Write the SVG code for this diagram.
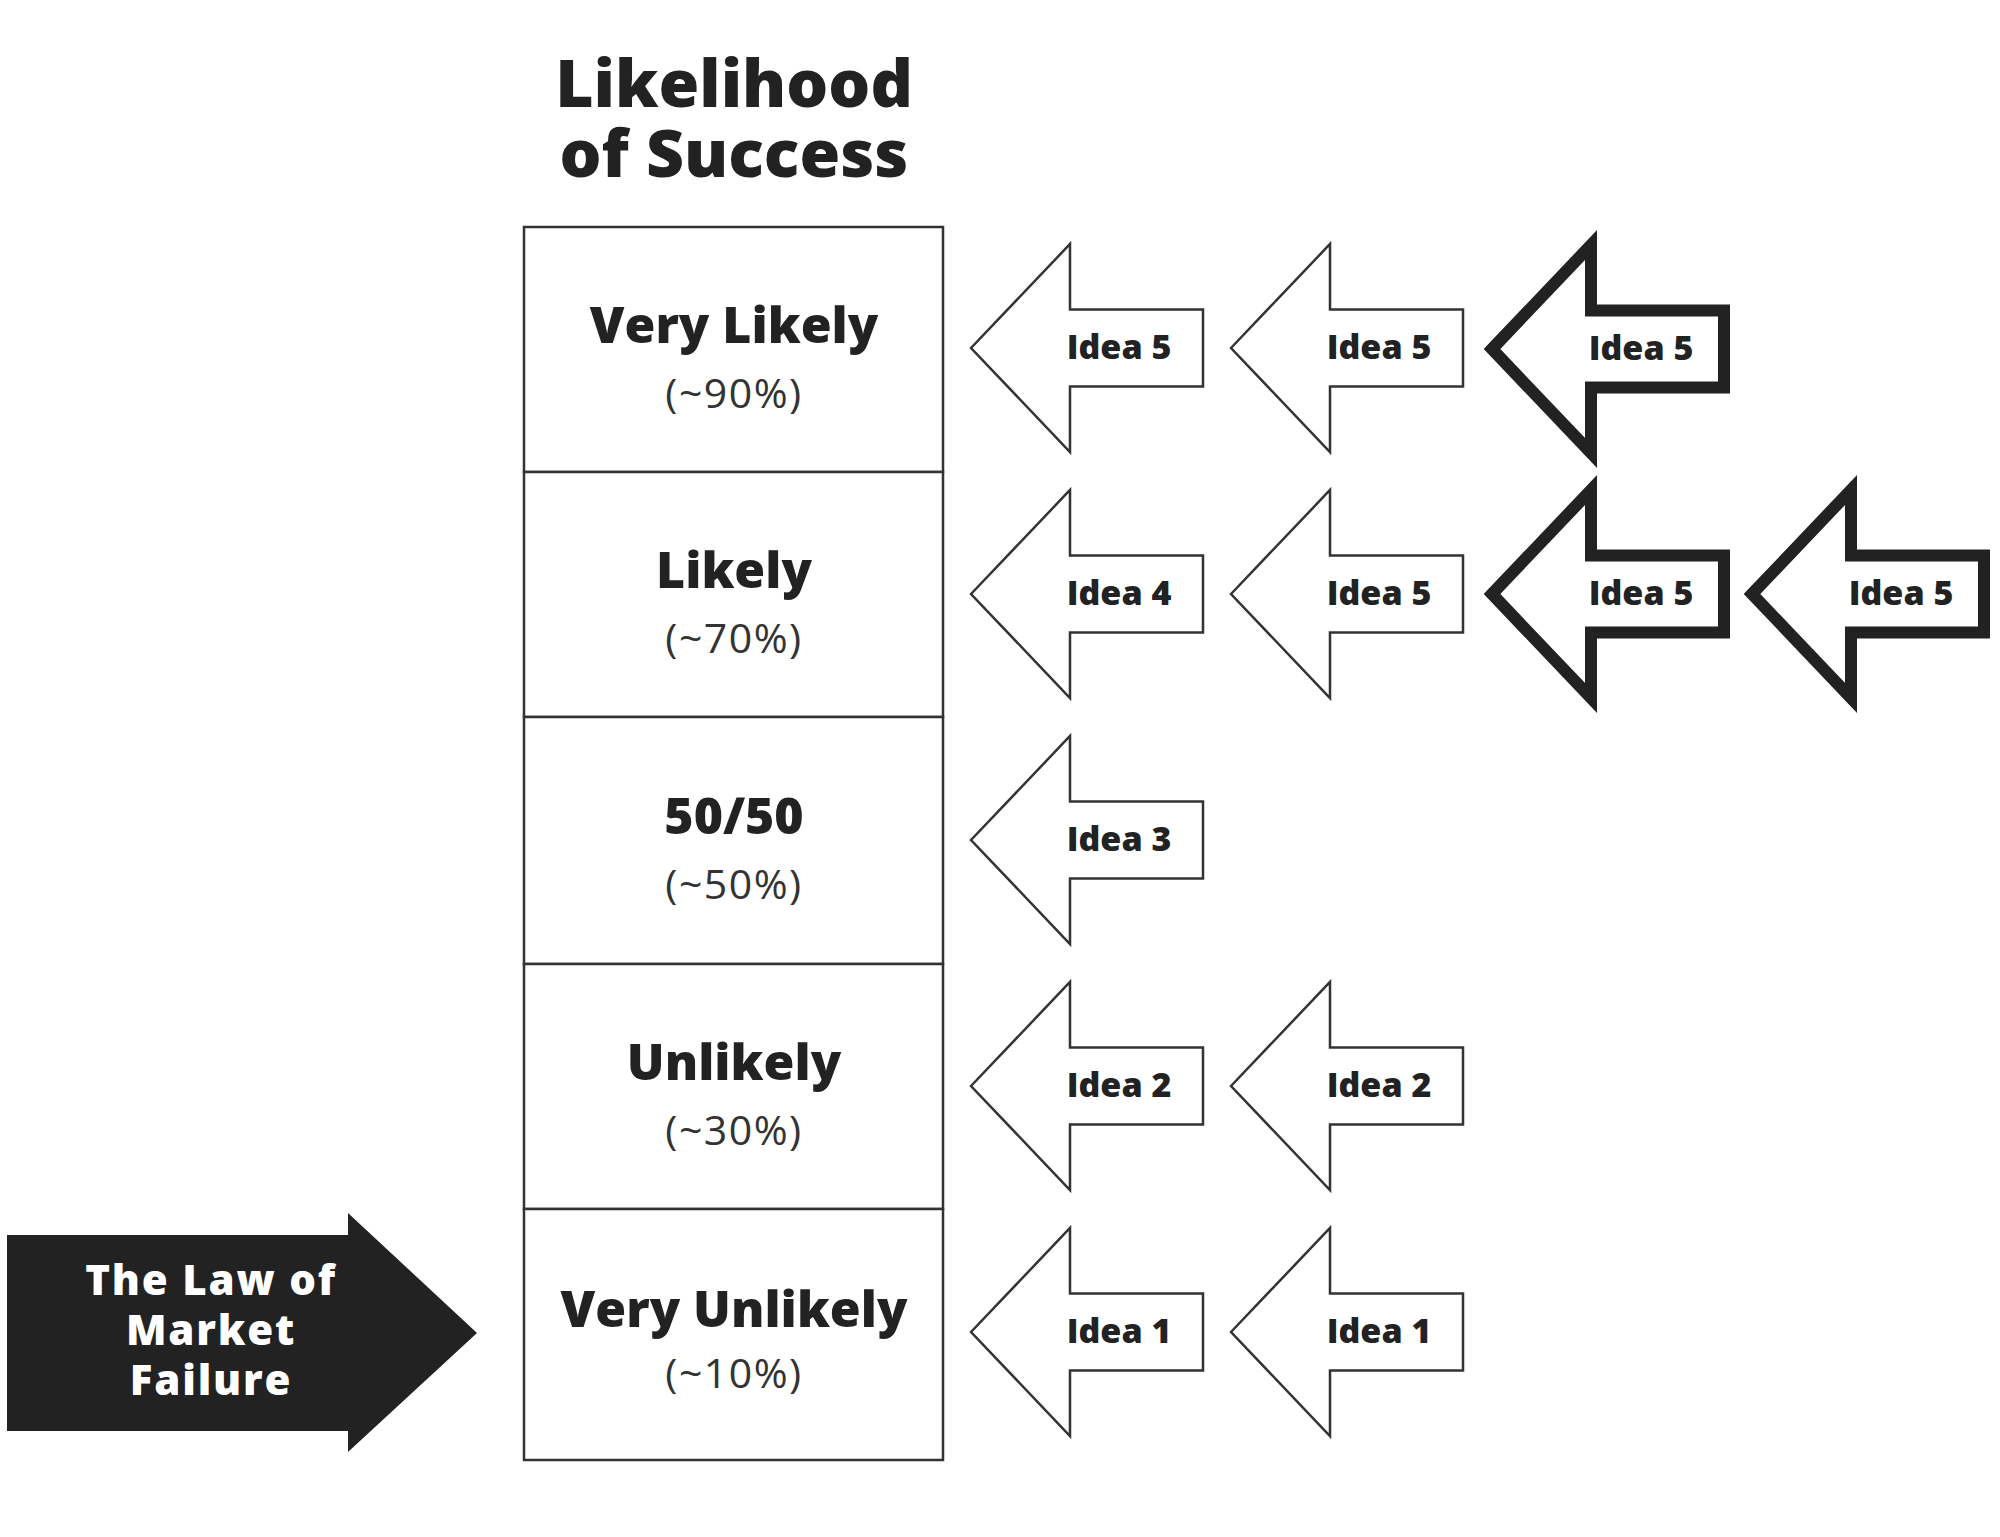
<svg xmlns="http://www.w3.org/2000/svg" width="2000" height="1537" viewBox="0 0 2000 1537">
<style>
.title{font-family:"Open Sans","Liberation Sans",sans-serif;font-weight:800;font-size:66px;fill:#222;text-anchor:middle}
.lbl{font-family:"Open Sans","Liberation Sans",sans-serif;font-weight:800;font-size:50px;fill:#222;text-anchor:middle}
.pct{font-family:"Open Sans","Liberation Sans",sans-serif;font-weight:400;font-size:41px;letter-spacing:1.5px;fill:#333;text-anchor:middle}
.idea{font-family:"Open Sans","Liberation Sans",sans-serif;font-weight:800;font-size:34px;fill:#222;text-anchor:middle}
.law{font-family:"Open Sans","Liberation Sans",sans-serif;font-weight:800;font-size:42px;letter-spacing:1.8px;fill:#fff;text-anchor:middle}
.cell{fill:#fff;stroke:#333;stroke-width:2.5}
.thin{fill:#fff;stroke:#333;stroke-width:2.5;stroke-linejoin:miter}
.thick{fill:#fff;stroke:#222;stroke-width:12;stroke-linejoin:miter;stroke-miterlimit:10}
</style>
<defs>
<path id="arrowShape" d="M-99,0 L0,-104 L0,-38.5 L133,-38.5 L133,38.5 L0,38.5 L0,104 Z"/>
</defs>
<rect width="2000" height="1537" fill="#fff"/>
<g id="title">
<text class="title" x="734" y="107">Likelihood</text>
<text class="title" x="734" y="177">of Success</text>
</g>
<g id="row-very-likely">
<rect class="cell" x="524" y="227" width="419" height="245"/>
<text class="lbl" x="734" y="343">Very Likely</text>
<text class="pct" x="734" y="408">(~90%)</text>
</g>
<g id="row-likely">
<rect class="cell" x="524" y="472" width="419" height="245"/>
<text class="lbl" x="734" y="588">Likely</text>
<text class="pct" x="734" y="653">(~70%)</text>
</g>
<g id="row-5050">
<rect class="cell" x="524" y="717" width="419" height="247"/>
<text class="lbl" x="734" y="834">50/50</text>
<text class="pct" x="734" y="899">(~50%)</text>
</g>
<g id="row-unlikely">
<rect class="cell" x="524" y="964" width="419" height="245"/>
<text class="lbl" x="734" y="1080">Unlikely</text>
<text class="pct" x="734" y="1145">(~30%)</text>
</g>
<g id="row-very-unlikely">
<rect class="cell" x="524" y="1209" width="419" height="251"/>
<text class="lbl" x="734" y="1327">Very Unlikely</text>
<text class="pct" x="734" y="1388">(~10%)</text>
</g>
<g id="law-of-market-failure">
<path d="M7,1235 L348,1235 L348,1213 L477,1333 L348,1452 L348,1431 L7,1431 Z" fill="#222"/>
<text class="law" x="211" y="1295">The Law of</text>
<text class="law" x="211" y="1345">Market</text>
<text class="law" x="211" y="1395">Failure</text>
</g>
<g id="r1a1"><use href="#arrowShape" class="thin" transform="translate(1070,348)"/><text class="idea" x="1119" y="359">Idea 5</text></g>
<g id="r1a2"><use href="#arrowShape" class="thin" transform="translate(1330,348)"/><text class="idea" x="1379" y="359">Idea 5</text></g>
<g id="r1a3"><use href="#arrowShape" class="thick" transform="translate(1591,349)"/><text class="idea" x="1641" y="360">Idea 5</text></g>
<g id="r2a1"><use href="#arrowShape" class="thin" transform="translate(1070,594)"/><text class="idea" x="1119" y="605">Idea 4</text></g>
<g id="r2a2"><use href="#arrowShape" class="thin" transform="translate(1330,594)"/><text class="idea" x="1379" y="605">Idea 5</text></g>
<g id="r2a3"><use href="#arrowShape" class="thick" transform="translate(1591,594)"/><text class="idea" x="1641" y="605">Idea 5</text></g>
<g id="r2a4"><use href="#arrowShape" class="thick" transform="translate(1851,594)"/><text class="idea" x="1901" y="605">Idea 5</text></g>
<g id="r3a1"><use href="#arrowShape" class="thin" transform="translate(1070,840)"/><text class="idea" x="1119" y="851">Idea 3</text></g>
<g id="r4a1"><use href="#arrowShape" class="thin" transform="translate(1070,1086)"/><text class="idea" x="1119" y="1097">Idea 2</text></g>
<g id="r4a2"><use href="#arrowShape" class="thin" transform="translate(1330,1086)"/><text class="idea" x="1379" y="1097">Idea 2</text></g>
<g id="r5a1"><use href="#arrowShape" class="thin" transform="translate(1070,1332)"/><text class="idea" x="1119" y="1343">Idea 1</text></g>
<g id="r5a2"><use href="#arrowShape" class="thin" transform="translate(1330,1332)"/><text class="idea" x="1379" y="1343">Idea 1</text></g>
<g id="connectors"></g>
</svg>
